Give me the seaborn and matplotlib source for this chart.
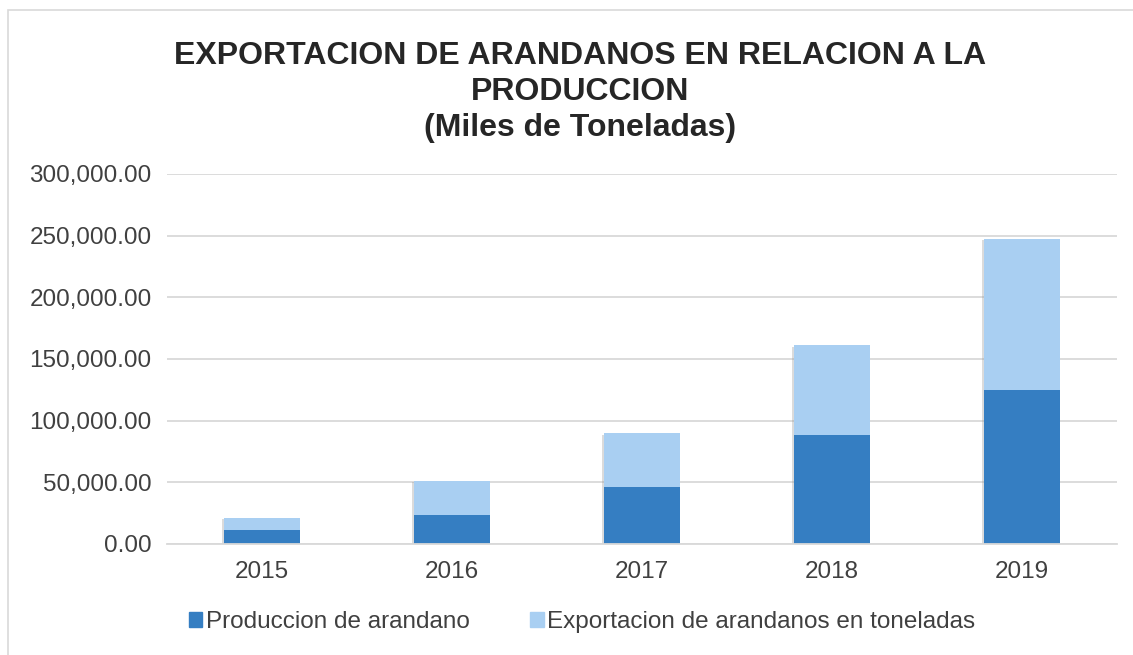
import numpy as np
import pandas as pd
import seaborn as sns
import matplotlib.pyplot as plt
import matplotlib.patches as mpatches
import matplotlib.patheffects as pe
from matplotlib.ticker import FuncFormatter

years = ['2015', '2016', '2017', '2018', '2019']
produccion = [11100, 23800, 46500, 88400, 124900]
exportacion = [10200, 27300, 43200, 72700, 122600]

dark = '#357EC2'
light = '#A9CFF2'
txt = '#404040'

df = pd.DataFrame({'year': years, 'prod': produccion, 'exp': exportacion})
df['total'] = df['prod'] + df['exp']

sns.set_theme(style='white')
plt.rcParams['font.family'] = ['Liberation Sans', 'DejaVu Sans']

fig = plt.figure(figsize=(11.33, 6.55), dpi=100)
ax = fig.add_axes([167 / 1133, 1 - 544 / 655, (1117 - 167) / 1133, (544 - 174) / 655])

shadow = [pe.SimplePatchShadow(offset=(-1.5, -1), shadow_rgbFace='#9a9a9a', alpha=0.35), pe.Normal()]

# stacked: total in light, production drawn over it
sns.barplot(data=df, x='year', y='total', color=light, width=0.4, saturation=1, ax=ax)
sns.barplot(data=df, x='year', y='prod', color=dark, width=0.4, saturation=1, ax=ax)
for p in ax.patches:
    p.set_linewidth(0)
for p in ax.patches[:len(years)]:
    p.set_path_effects(shadow)

ax.set_ylim(0, 300000)
ax.set_xlim(-0.5, 4.5)
ax.set_yticks(np.arange(0, 300001, 50000))
ax.yaxis.set_major_formatter(FuncFormatter(lambda v, _: f'{v:,.2f}'))
ax.grid(axis='y', color='#D9D9D9', linewidth=1.3)
ax.set_axisbelow(True)
for s in ['top', 'right', 'left']:
    ax.spines[s].set_visible(False)
ax.spines['bottom'].set_color('#D9D9D9')
ax.spines['bottom'].set_linewidth(1.3)
ax.tick_params(axis='both', length=0, labelsize=17.5, colors=txt, pad=12)
ax.tick_params(axis='y', pad=11)
ax.set_xlabel('')
ax.set_ylabel('')

fig.text(580 / 1133, 1 - 92 / 655,
         'EXPORTACION DE ARANDANOS EN RELACION A LA\nPRODUCCION\n(Miles de Toneladas)',
         ha='center', va='center', fontsize=23, fontweight='bold', color='#262626',
         linespacing=1.25)

handles = [mpatches.Patch(color=dark, label='Produccion de arandano'),
           mpatches.Patch(color=light, label='Exportacion de arandanos en toneladas')]
fig.legend(handles=handles, loc='center', bbox_to_anchor=(582 / 1133, 1 - 622 / 655), ncol=2,
           frameon=False, fontsize=17.5, handlelength=0.55, handleheight=0.55,
           handletextpad=0.15, columnspacing=2.5, labelcolor=txt)

# chart frame
fig.patches.append(mpatches.Rectangle((8 / 1133, -0.05), 1.2, 1 - 10 / 655 + 0.05,
                                      transform=fig.transFigure, fill=False,
                                      edgecolor='#D9D9D9', linewidth=1.2))

fig.savefig('out.png', dpi=100)
